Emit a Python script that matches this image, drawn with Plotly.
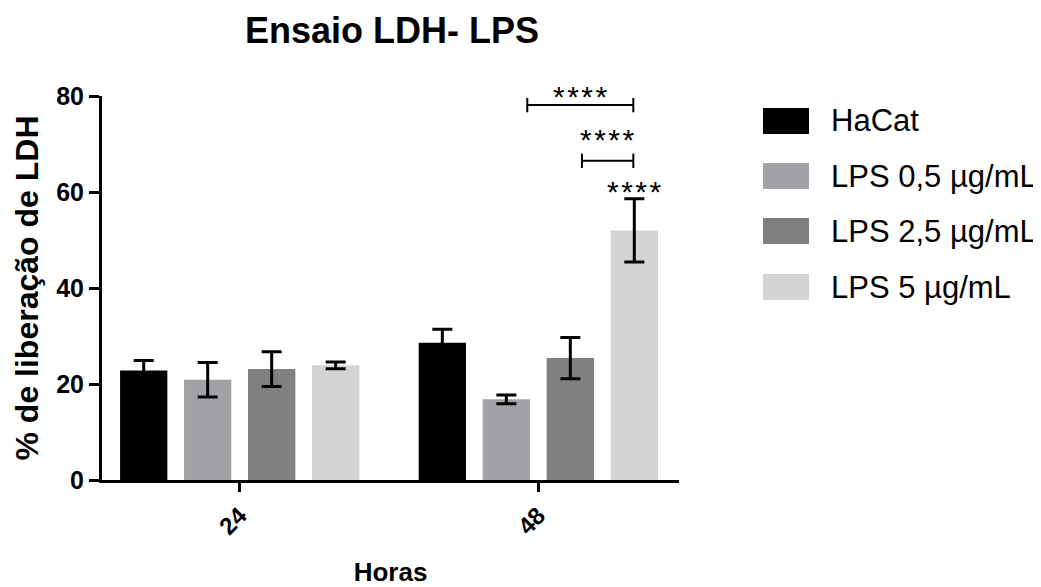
import plotly.graph_objects as go

# ---------------- data ----------------
hours = ["24", "48"]
series_names = ["HaCat", "LPS 0,5 µg/mL", "LPS 2,5 µg/mL", "LPS 5 µg/mL"]
hacat = [22.8, 28.6]
hacat_err = [2.1, 2.8]
lps05 = [20.9, 16.8]
lps05_err = [3.6, 0.9]
lps25 = [23.1, 25.4]
lps25_err = [3.6, 4.3]
lps5 = [23.9, 52.0]
lps5_err = [0.7, 6.6]

# significance brackets (x in category units, y in data units)
bracket_x0 = [0.963, 1.146]
bracket_x1 = [1.318, 1.318]
bracket_y = [78.1, 66.5]
star_labels = ["****", "****", "****"]
star_y = [80.6, 71.5, 60.8]

# ---------------- style ----------------
colors = ["#000000", "#A2A2A6", "#808080", "#D4D4D4"]
FONT = "Arial, Liberation Sans, sans-serif"
OFF = 8  # page body margin
W, H = 1041, 587
# plot area in screen px: x 102..679, y 96..480
SL, SR, ST, SB = 102, 679, 96, 480
L = SL - OFF
T = ST - OFF
R = W - (SR - OFF)
B = H - (SB - OFF)
PW, PH = SR - SL, SB - ST
XR = [-0.461, 1.471]
YR = [0, 80]
slot = 0.2142

values = [hacat, lps05, lps25, lps5]
errors = [hacat_err, lps05_err, lps25_err, lps5_err]

fig = go.Figure()
xpos = list(range(len(hours)))
for name, col, v, e in zip(series_names, colors, values, errors):
    fig.add_trace(go.Bar(
        x=xpos, y=v, name=name,
        marker=dict(color=col, line=dict(width=0)),
        error_y=dict(type="data", array=e, visible=True, color="black",
                     thickness=3, width=10),
        showlegend=False,
    ))


def px_x(px):
    return (px - SL) / PW


def px_y(py):
    return (SB - py) / PH


def data_to_paper_y(v):
    return (v - YR[0]) / (YR[1] - YR[0])


def data_to_paper_x(v):
    return (v - XR[0]) / (XR[1] - XR[0])


shapes = []
annotations = []

# brackets
tick_half = 1.5
for x0, x1, y in zip(bracket_x0, bracket_x1, bracket_y):
    shapes.append(dict(type="line", xref="x", yref="y", x0=x0, x1=x1, y0=y, y1=y,
                       line=dict(color="black", width=2)))
    for xx in (x0, x1):
        shapes.append(dict(type="line", xref="x", yref="y", x0=xx, x1=xx,
                           y0=y - tick_half, y1=y + tick_half,
                           line=dict(color="black", width=2)))

# stars
lps5_center_48 = 1 + 1.5 * slot
star_x = [(bracket_x0[0] + bracket_x1[0]) / 2, (bracket_x0[1] + bracket_x1[1]) / 2,
          lps5_center_48]
for sx, sy, lab in zip(star_x, star_y, star_labels):
    annotations.append(dict(x=data_to_paper_x(sx), y=data_to_paper_y(sy),
                            xref="paper", yref="paper", text="\u200a".join(lab),
                            showarrow=False, xanchor="center", yanchor="middle",
                            yshift=-3, font=dict(family=FONT, size=30, color="black")))

# custom legend
row_centers = [121, 176, 231, 287]
for name, col, cy in zip(series_names, colors, row_centers):
    shapes.append(dict(type="rect", xref="paper", yref="paper",
                       x0=px_x(763), x1=px_x(809), y0=px_y(cy + 13), y1=px_y(cy - 13),
                       fillcolor=col, line=dict(width=0)))
    annotations.append(dict(x=px_x(829), y=px_y(cy), xref="paper", yref="paper",
                            text=name, showarrow=False, xanchor="left", yanchor="middle",
                            font=dict(family=FONT, size=31, color="black")))

fig.update_layout(
    width=W, height=H,
    margin=dict(l=L, r=R, t=T, b=B),
    paper_bgcolor="white", plot_bgcolor="white",
    barmode="group", bargap=0.143, bargroupgap=0.261,
    font=dict(family=FONT, color="black"),
    title=dict(text="Ensaio LDH- LPS", x=px_x(392), xref="paper", xanchor="center",
               y=1 - (30 - OFF) / H, yanchor="middle",
               font=dict(family=FONT, size=36, color="black", weight="bold")),
    shapes=shapes, annotations=annotations,
    showlegend=False,
)
fig.update_xaxes(
    range=XR, tickvals=xpos, ticktext=hours, tickangle=-45,
    showline=True, linewidth=3, linecolor="black",
    ticks="outside", ticklen=9, tickwidth=3, tickcolor="black",
    tickfont=dict(family=FONT, size=24, color="black", weight="bold"),
    showgrid=False, zeroline=False, automargin=False,
    title=dict(text="Horas", standoff=25,
               font=dict(family=FONT, size=26, color="black", weight="bold")),
)
fig.update_yaxes(
    range=YR, tickvals=[0, 20, 40, 60, 80],
    showline=True, linewidth=3, linecolor="black",
    ticks="outside", ticklen=10, tickwidth=3, tickcolor="black",
    tickfont=dict(family=FONT, size=25, color="black", weight="bold"),
    showgrid=False, zeroline=False, automargin=False,
    title=dict(text="% de liberação de LDH", standoff=8,
               font=dict(family=FONT, size=32, color="black", weight="bold")),
)

fig.write_html("out.html")
